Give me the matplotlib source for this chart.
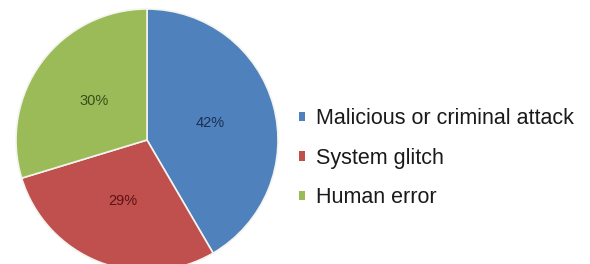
import matplotlib
matplotlib.use("Agg")
import matplotlib.pyplot as plt
from matplotlib.patches import Patch

categories = ["Malicious or criminal attack", "System glitch", "Human error"]
values = [42, 29, 30]
colors = ["#4F81BD", "#C0504D", "#9BBB59"]
label_colors = ["#1c2f55", "#5a1414", "#34501c"]

plt.rcParams['font.family'] = ['Liberation Sans', 'DejaVu Sans']

W, H = 590, 264
fig = plt.figure(figsize=(W / 100, H / 100), dpi=100)
fig.patch.set_facecolor("white")

cx, cy, r = 147, 140, 131
ax = fig.add_axes([(cx - r) / W, (H - cy - r) / H, 2 * r / W, 2 * r / H])
total = sum(values)
wedges, texts, autotexts = ax.pie(
    values, colors=colors, startangle=90, counterclock=False,
    radius=1.0, pctdistance=0.5,
    autopct=lambda p: f"{round(p * total / 100)}%",
    wedgeprops=dict(edgecolor="#f4f4ee", linewidth=1.2),
    textprops=dict(fontsize=10.5),
)
for t, c in zip(autotexts, label_colors):
    t.set_color(c)
ax.set_xlim(-1, 1)
ax.set_ylim(-1, 1)
ax.set_aspect("equal")
ax.axis("off")

handles = [Patch(facecolor=c, edgecolor="none") for c in colors]
leg = fig.legend(handles, categories, loc="upper left",
                 bbox_to_anchor=(299 / W, 1 - 108 / H),
                 frameon=False, fontsize=15.5, handlelength=0.3, handleheight=0.3,
                 handletextpad=0.5, labelspacing=0.87, borderpad=0, borderaxespad=0)
for t in leg.get_texts():
    t.set_color("#1a1a1a")

fig.savefig("out.png", dpi=100, facecolor="white")
